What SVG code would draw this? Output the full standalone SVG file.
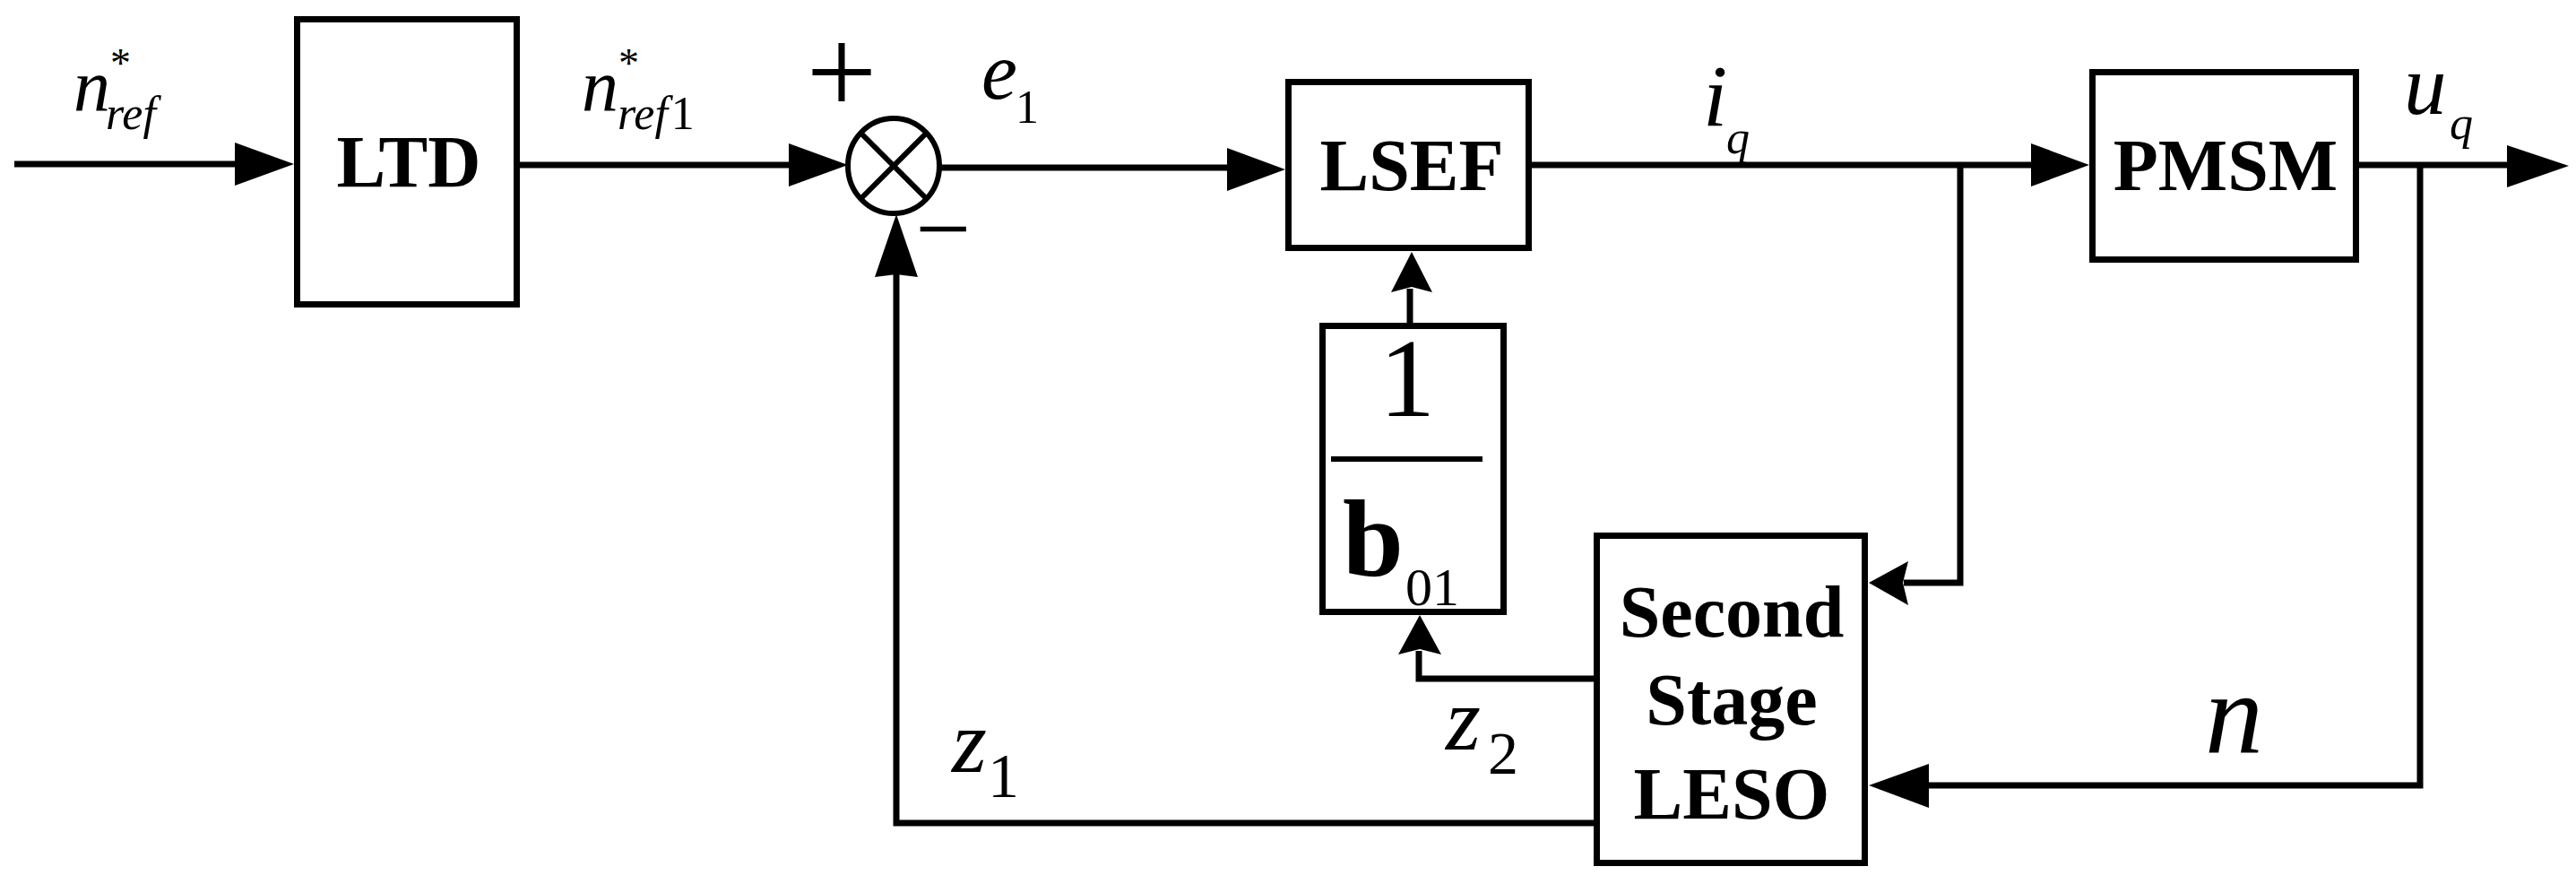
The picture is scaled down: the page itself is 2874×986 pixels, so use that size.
<svg xmlns="http://www.w3.org/2000/svg" width="2874" height="986" viewBox="0 0 2874 986">
<style>
.box{fill:#fff;stroke:#000;stroke-width:7}
.ln{fill:none;stroke:#000;stroke-width:7;stroke-linejoin:miter;stroke-linecap:butt}
.ah{fill:#000;stroke:none}
.bt{font-family:"Liberation Serif","Times New Roman",serif;font-weight:bold;font-size:82px;text-anchor:middle;fill:#000}
.lb{font-family:"Liberation Serif","Times New Roman",serif;fill:#000}
.it{font-style:italic}
.up{font-style:normal}
</style>
<rect width="2874" height="986" fill="#fff"/>

<g id="connectors">
  <path class="ln" d="M16,183 H264"/>
  <polygon class="ah" points="328,183 262,159 262,207"/>
  <path class="ln" d="M580,184 H882"/>
  <polygon class="ah" points="946,184 880,160 880,208"/>
  <path class="ln" d="M1050,187 H1371"/>
  <polygon class="ah" points="1434,189 1369,165 1369,213"/>
  <path class="ln" d="M1709,184 H2268"/>
  <polygon class="ah" points="2331,184 2266,160 2266,208"/>
  <path class="ln" d="M2632,184 H2799"/>
  <polygon class="ah" points="2866,185 2797,162 2797,209"/>
  <path class="ln" d="M2187,184 V650 H2124"/>
  <polygon class="ah" points="2085,650 2129,626 2123,650 2129,675"/>
  <path class="ln" d="M2700,184 V876 H2150"/>
  <polygon class="ah" points="2085,876 2152,852 2152,901"/>
  <path class="ln" d="M1781,757 H1583 V726"/>
  <polygon class="ah" points="1584,686 1608,730 1584,724 1560,730"/>
  <path class="ln" d="M1573,363 V322"/>
  <polygon class="ah" points="1575,281 1598,326 1575,320 1552,326"/>
  <path class="ln" d="M1781,918 H1000 V305"/>
  <polygon class="ah" points="1000,239 1024,309 1000,306 976,309"/>
</g>

<g id="input-label">
  <text class="lb"><tspan class="it" x="82" y="123" font-size="82">n</tspan><tspan class="up" x="123" y="86" font-size="46">*</tspan><tspan class="it" x="118" y="144" font-size="52">ref</tspan></text>
</g>

<g id="LTD">
  <rect class="box" x="331.5" y="21.5" width="245" height="318"/>
  <text class="bt" x="456" y="208">LTD</text>
</g>

<g id="ref1-label">
  <text class="lb"><tspan class="it" x="649" y="123" font-size="82">n</tspan><tspan class="up" x="690" y="86" font-size="46">*</tspan><tspan class="it" x="689" y="144" font-size="52">ref</tspan><tspan class="up" dx="4" font-size="52">1</tspan></text>
</g>

<g id="sum">
  <ellipse cx="997" cy="185" rx="51" ry="53" fill="#fff" stroke="#000" stroke-width="6"/>
  <path d="M960,148 L1034,222 M1034,148 L960,222" stroke="#000" stroke-width="6" fill="none"/>
  <text class="lb" x="939" y="127" font-size="140" text-anchor="middle">+</text>
  <text class="lb" x="1052" y="292" font-size="110" text-anchor="middle">−</text>
</g>

<g id="e1-label">
  <text class="lb"><tspan class="it" x="1095" y="110" font-size="90">e</tspan><tspan class="up" x="1133" y="137" font-size="52">1</tspan></text>
</g>

<g id="LSEF">
  <rect class="box" x="1437.5" y="91.5" width="268" height="185"/>
  <text class="bt" x="1575" y="212">LSEF</text>
</g>

<g id="iq-label">
  <text class="lb it"><tspan x="1900" y="140" font-size="98">i</tspan><tspan x="1926" y="171" font-size="52">q</tspan></text>
</g>

<g id="PMSM">
  <rect class="box" x="2334.5" y="80.5" width="294" height="209"/>
  <text class="bt" x="2483" y="212">PMSM</text>
</g>

<g id="uq-label">
  <text class="lb it"><tspan x="2682" y="127" font-size="95">u</tspan><tspan x="2733" y="155" font-size="52">q</tspan></text>
</g>

<g id="gain">
  <rect class="box" x="1475.5" y="363.5" width="202" height="319"/>
  <text class="lb" x="1570" y="464" font-size="125" text-anchor="middle">1</text>
  <line x1="1485" y1="512" x2="1654" y2="512" stroke="#000" stroke-width="6"/>
  <text class="lb"><tspan x="1498" y="642" font-size="122" font-weight="bold">b</tspan><tspan x="1568" y="675" font-size="60">01</tspan></text>
</g>

<g id="LESO">
  <rect class="box" x="1781.5" y="597.5" width="299" height="365"/>
  <text class="bt" x="1932" y="710">Second</text>
  <text class="bt" x="1932" y="808">Stage</text>
  <text class="bt" x="1932" y="913">LESO</text>
</g>

<g id="z1-label">
  <text class="lb"><tspan class="it" x="1062" y="861" font-size="100">z</tspan><tspan class="up" x="1102" y="889" font-size="70">1</tspan></text>
</g>
<g id="z2-label">
  <text class="lb"><tspan class="it" x="1613" y="836" font-size="100">z</tspan><tspan class="up" x="1660" y="863" font-size="68">2</tspan></text>
</g>
<g id="n-label">
  <text class="lb it" x="2460" y="840" font-size="130">n</text>
</g>
</svg>
